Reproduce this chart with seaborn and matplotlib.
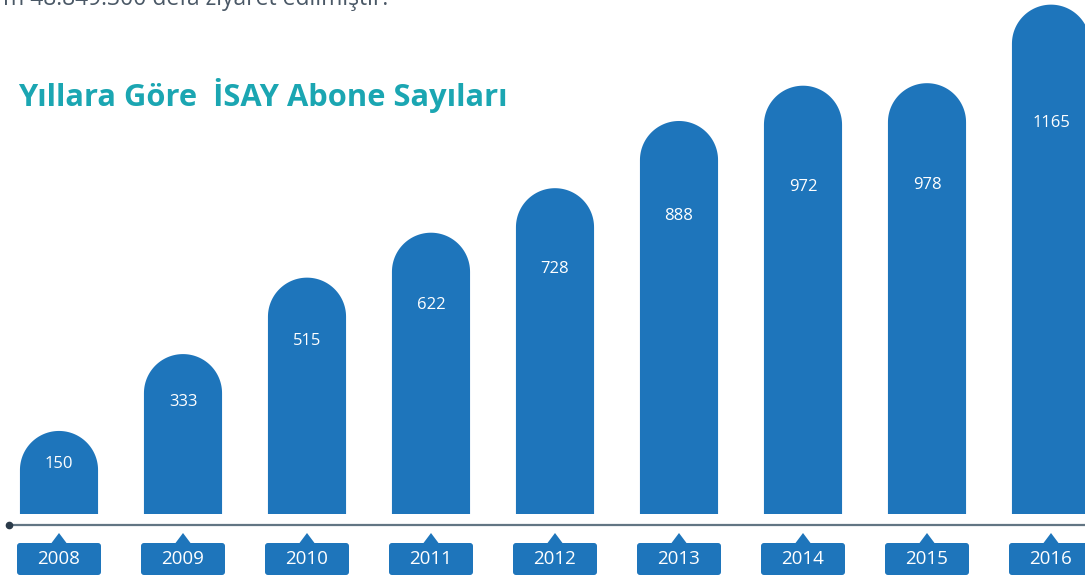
import numpy as np
import pandas as pd
import matplotlib
matplotlib.use("Agg")
import matplotlib.pyplot as plt
import matplotlib.transforms as mtransforms
from matplotlib.patches import Polygon, FancyBboxPatch
import seaborn as sns

# ---- data ----
years = ["2008", "2009", "2010", "2011", "2012", "2013", "2014", "2015", "2016"]
subscribers = [150, 333, 515, 622, 728, 888, 972, 978, 1165]
title_text = "Yıllara Göre  İSAY Abone Sayıları"
top_text = "m 48.849.300 defa ziyaret edilmiştir."

BAR = "#1e75bb"
TEAL = "#1ba6b2"
LINE = "#627583"

sns.set_theme(style="white")
plt.rcParams["font.family"] = ["Open Sans", "DejaVu Sans"]

W, H = 1085, 583
fig = plt.figure(figsize=(W / 100, H / 100), dpi=100)
base_px = 69
ax = fig.add_axes([0, base_px / H, 1, (H - base_px) / H])
ax_h_px = H - base_px

df = pd.DataFrame({"year": years, "value": subscribers})
sns.barplot(data=df, x="year", y="value", color=BAR, width=0.63,
            saturation=1, ax=ax)

ax.set_xlim(-59 / 124, (W - 59) / 124)
ax.set_ylim(0, ax_h_px / 0.42)
ax.axis("off")

# pixel scales
sx = ax.transData.transform((1, 0))[0] - ax.transData.transform((0, 0))[0]
sy = ax.transData.transform((0, 1))[1] - ax.transData.transform((0, 0))[1]

# rounded-top bars
for p in list(ax.patches):
    x0, w, v = p.get_x(), p.get_width(), p.get_height()
    p.set_visible(False)
    r_px = w * sx / 2
    ry = r_px / sy
    yc = v - 19 / sy
    xc = x0 + w / 2
    t = np.linspace(0, np.pi, 60)
    arc = np.column_stack([xc + (w / 2) * np.cos(t), yc + ry * np.sin(t)])
    verts = np.vstack([[x0 + w, 0], [x0 + w, yc], arc, [x0, yc], [x0, 0]])
    ax.add_patch(Polygon(verts, closed=True, facecolor=BAR, edgecolor="none"))
    ax.text(xc, 0.8 * v, f"{int(v)}", ha="center", va="center",
            color="white", fontsize=12)

# baseline timeline and year boxes
blend = mtransforms.blended_transform_factory(ax.transData, ax.transAxes)
ly = -11 / ax_h_px
ax.plot([-0.403, 9], [ly, ly], transform=blend, color=LINE, lw=1.6,
        clip_on=False, solid_capstyle="butt")
ax.plot([-0.403], [ly], transform=blend, marker="o", ms=4.5,
        color="#2b3b4a", clip_on=False)

bw = 84 / sx
box_top = -29 / ax_h_px
box_bot = -61 / ax_h_px
aspect = sx / ax_h_px
for i, yr in enumerate(years):
    box = FancyBboxPatch((i - bw / 2, box_bot), bw, box_top - box_bot,
                         boxstyle=f"round,pad=0,rounding_size={3 / sx}",
                         mutation_aspect=aspect,
                         transform=blend, facecolor=BAR, edgecolor="none",
                         clip_on=False)
    ax.add_patch(box)
    tri = Polygon([[i - 9 / sx, box_top - 2 / ax_h_px],
                   [i + 9 / sx, box_top - 2 / ax_h_px],
                   [i, -19 / ax_h_px]], closed=True, transform=blend,
                  facecolor=BAR, edgecolor="none", clip_on=False)
    ax.add_patch(tri)
    ax.text(i, (box_top + box_bot) / 2, yr, transform=blend, ha="center",
            va="center", color="white", fontsize=13.5, clip_on=False)

# title and clipped top sentence
fig.text(18 / W, 1 - 106 / H, title_text, ha="left", va="baseline",
         color=TEAL, fontsize=22.2, fontweight="bold")
fig.text(388 / W, 1 - 5 / H, top_text, ha="right", va="baseline",
         color="#4a5866", fontsize=16.5)

fig.savefig("out.png", dpi=100)
